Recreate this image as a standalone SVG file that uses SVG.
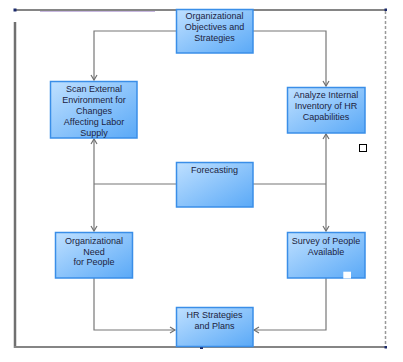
<svg xmlns="http://www.w3.org/2000/svg" width="403" height="362" viewBox="0 0 403 362">
<style>
.node{fill:url(#g);stroke:#3a8ee8;stroke-width:1.5}
.t{font-family:"Liberation Sans",Arial,sans-serif;font-size:9px;fill:#1c2340;text-anchor:middle}
.c{fill:none;stroke:#777;stroke-width:1.2}
.h{fill:#1b2a6b}
</style>
<defs>
<linearGradient id="g" x1="0" y1="0" x2="1" y2="1">
<stop offset="0" stop-color="#bfe0ff"/>
<stop offset="1" stop-color="#5aa9f7"/>
</linearGradient>
<marker id="a" markerWidth="8" markerHeight="8" refX="6" refY="4" orient="auto" markerUnits="userSpaceOnUse">
<path d="M1,1 L6,4 L1,7" fill="none" stroke="#707070" stroke-width="1.2"/>
</marker>
</defs>
<rect width="403" height="362" fill="#fff"/>
<g id="frame">
<line x1="14" y1="10" x2="386" y2="10" stroke="#858585" stroke-width="2"/>
<line x1="40" y1="11.5" x2="155" y2="11.5" stroke="#c8b8e0" stroke-width="1"/>
<line x1="15" y1="22" x2="15" y2="348" stroke="#707070" stroke-width="2.5"/>
<line x1="14" y1="347" x2="386" y2="347" stroke="#858585" stroke-width="2"/>
<line x1="385.5" y1="11" x2="385.5" y2="347" stroke="#999" stroke-width="1.5" stroke-dasharray="3,2"/>
<rect class="h" x="13.5" y="8.5" width="3" height="3"/>
<rect class="h" x="200" y="346" width="3" height="3"/>
<rect class="h" x="384.5" y="346" width="2.5" height="2.5"/>
<rect class="h" x="384.5" y="8.5" width="2.5" height="2.5"/>
<rect x="359.5" y="144.5" width="7" height="7" fill="#fff" stroke="#000" stroke-width="1"/>
</g>
<g id="connectors">
<path class="c" d="M176,31 H94 V80" marker-end="url(#a)"/>
<path class="c" d="M253,31 H326 V86" marker-end="url(#a)"/>
<path class="c" d="M176,184 H94"/>
<path class="c" d="M253,184 H326"/>
<path class="c" d="M94,184 V139" marker-end="url(#a)"/>
<path class="c" d="M94,184 V231" marker-end="url(#a)"/>
<path class="c" d="M326,184 V134" marker-end="url(#a)"/>
<path class="c" d="M326,184 V231" marker-end="url(#a)"/>
<path class="c" d="M94,278 V330 H175" marker-end="url(#a)"/>
<path class="c" d="M326,278 V330 H254" marker-end="url(#a)"/>
</g>
<g id="n-objectives">
<rect class="node" x="176.5" y="9.5" width="76.5" height="43.5"/>
<text class="t" x="214.5" y="19">Organizational</text>
<text class="t" x="214.5" y="30">Objectives and</text>
<text class="t" x="214.5" y="40.5">Strategies</text>
</g>
<g id="n-scan">
<rect class="node" x="50.5" y="81.5" width="86.5" height="56.5"/>
<text class="t" x="94" y="92.3">Scan External</text>
<text class="t" x="94" y="103">Environment for</text>
<text class="t" x="94" y="114">Changes</text>
<text class="t" x="94" y="125">Affecting Labor</text>
<text class="t" x="94" y="135.5">Supply</text>
</g>
<g id="n-analyze">
<rect class="node" x="287.5" y="87.5" width="77.5" height="45.5"/>
<text class="t" x="326" y="98.2">Analyze Internal</text>
<text class="t" x="326" y="109">Inventory of HR</text>
<text class="t" x="326" y="120">Capabilities</text>
</g>
<g id="n-forecasting">
<rect class="node" x="176.5" y="162.5" width="76.5" height="44.5"/>
<text class="t" x="214.5" y="172.5">Forecasting</text>
</g>
<g id="n-need">
<rect class="node" x="55.5" y="232.5" width="77" height="45.5"/>
<text class="t" x="94" y="243.5">Organizational</text>
<text class="t" x="94" y="254.5">Need</text>
<text class="t" x="94" y="265">for People</text>
</g>
<g id="n-survey">
<rect class="node" x="287.5" y="232.5" width="77.5" height="45.5"/>
<text class="t" x="326" y="243.5">Survey of People</text>
<text class="t" x="326" y="254.5">Available</text>
<rect x="343.3" y="271.7" width="7.7" height="6.8" fill="#fff"/>
</g>
<g id="n-hr">
<rect class="node" x="176.5" y="307.5" width="76.5" height="39"/>
<text class="t" x="214.5" y="318">HR Strategies</text>
<text class="t" x="214.5" y="329">and Plans</text>
</g>
</svg>
